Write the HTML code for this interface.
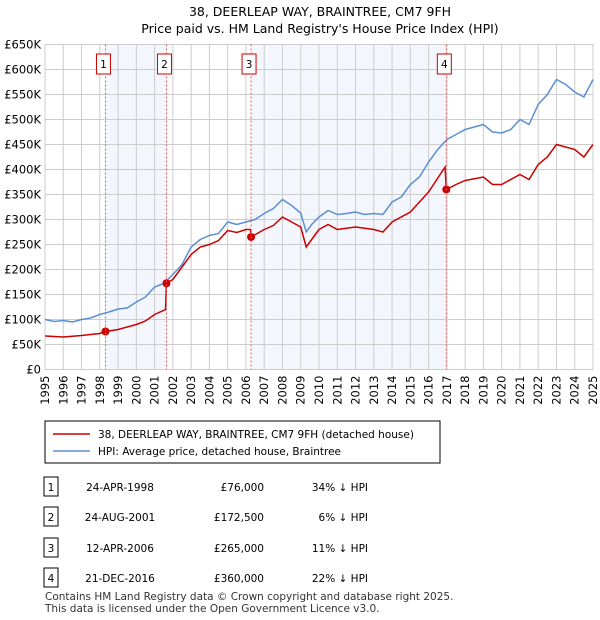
<!DOCTYPE html>
<html><head><meta charset="utf-8"><style>
body{margin:0;background:#fff;font-family:"Liberation Sans","DejaVu Sans",sans-serif;}
svg{display:block}
text{font-family:"DejaVu Sans","Liberation Sans",sans-serif;}
</style></head><body>
<svg id="c" width="600" height="620" viewBox="0 0 600 620" xmlns="http://www.w3.org/2000/svg">
<text x="320" y="16" text-anchor="middle" font-size="12.5">38, DEERLEAP WAY, BRAINTREE, CM7 9FH</text>
<text x="320" y="33" text-anchor="middle" font-size="12.5">Price paid vs. HM Land Registry's House Price Index (HPI)</text>
<g id="bands"></g><g id="grid"></g><g id="axes"></g><g id="lines"></g><g id="marks"></g>
<g>
<rect x="45" y="421" width="395" height="42" fill="#fff" stroke="#000" stroke-width="1"/>
<line x1="53" y1="434" x2="90" y2="434" stroke="#cc0000" stroke-width="1.5"/>
<text x="98" y="438" font-size="10.5">38, DEERLEAP WAY, BRAINTREE, CM7 9FH (detached house)</text>
<line x1="53" y1="451" x2="90" y2="451" stroke="#5b8fd4" stroke-width="1.5"/>
<text x="98" y="455" font-size="10.5">HPI: Average price, detached house, Braintree</text>
</g>
<g id="table" font-size="10.5"></g>
<text x="45" y="600" font-size="10.5" fill="#333">Contains HM Land Registry data © Crown copyright and database right 2025.</text>
<text x="45" y="612" font-size="10.5" fill="#333">This data is licensed under the Open Government Licence v3.0.</text>
</svg>
<script>
const yTicks=[0,50,100,150,200,250,300,350,400,450,500,550,600,650];
const yLabels=["£0","£50K","£100K","£150K","£200K","£250K","£300K","£350K","£400K","£450K","£500K","£550K","£600K","£650K"];
const years=[1995,1996,1997,1998,1999,2000,2001,2002,2003,2004,2005,2006,2007,2008,2009,2010,2011,2012,2013,2014,2015,2016,2017,2018,2019,2020,2021,2022,2023,2024,2025];
const hpiT=[1995,1995.5,1996,1996.5,1997,1997.5,1998,1998.5,1999,1999.5,2000,2000.5,2001,2001.5,2002,2002.5,2003,2003.5,2004,2004.5,2005,2005.5,2006,2006.5,2007,2007.5,2008,2008.5,2009,2009.3,2009.6,2010,2010.5,2011,2011.5,2012,2012.5,2013,2013.5,2014,2014.5,2015,2015.5,2016,2016.5,2017,2017.5,2018,2018.5,2019,2019.5,2020,2020.5,2021,2021.5,2022,2022.5,2023,2023.5,2024,2024.5,2025];
const hpiV=[100,96,98,95,100,103,110,115,121,123,135,145,165,172,190,210,245,260,268,272,295,290,295,300,312,322,340,328,313,275,290,305,318,310,312,315,310,312,310,335,345,370,385,415,440,460,470,480,485,490,475,473,480,500,490,530,550,580,570,555,545,580];
const ppT=[1995,1996,1997,1998,1998.31,1999,2000,2000.5,2001,2001.6,2001.65,2002,2003,2003.5,2004,2004.5,2005,2005.5,2006,2006.25,2006.28,2007,2007.5,2008,2008.5,2009,2009.3,2010,2010.5,2011,2012,2013,2013.5,2014,2015,2015.5,2016,2016.9,2016.97,2017.5,2018,2019,2019.5,2020,2021,2021.5,2022,2022.5,2023,2024,2024.5,2025];
const ppV=[67,65,68,72,76,80,90,97,110,120,172.5,180,230,245,250,258,278,274,280,280,265,280,288,305,295,285,245,280,290,280,285,280,275,295,315,335,355,405,360,370,378,385,370,370,390,380,410,425,450,440,425,450];
const saleT=[1998.31,2001.65,2006.28,2016.97];
const saleV=[76,172.5,265,360];
const saleDates=["24-APR-1998","24-AUG-2001","12-APR-2006","21-DEC-2016"];
const salePrices=["£76,000","£172,500","£265,000","£360,000"];
const saleHpi=["34% ↓ HPI","6% ↓ HPI","11% ↓ HPI","22% ↓ HPI"];
const X0=45,X1=593,Y0=369.5,Y1=44.5;
const x=t=>X0+(t-1995)/30*(X1-X0);
const y=v=>Y0-v/650*(Y0-Y1);
const NS="http://www.w3.org/2000/svg";
function mk(p,tag,a){const e=document.createElementNS(NS,tag);for(const k in a)e.setAttribute(k,a[k]);p.appendChild(e);return e;}
const bands=document.getElementById('bands'),grid=document.getElementById('grid'),axes=document.getElementById('axes'),lines=document.getElementById('lines'),marks=document.getElementById('marks'),table=document.getElementById('table');
for(let i=0;i<4;i+=2){const b=mk(bands,'rect',{x:x(saleT[i]),y:Y1,width:x(saleT[i+1])-x(saleT[i]),height:Y0-Y1,fill:'#eef3fc',opacity:0.7});

}
yTicks.forEach((v,i)=>{mk(grid,'line',{x1:X0,x2:X1,y1:y(v),y2:y(v),stroke:'#ccc','stroke-width':1});
const t=mk(axes,'text',{x:X0-4,y:y(v)+4,'text-anchor':'end','font-size':11.5});t.textContent=yLabels[i];

});
years.forEach(yr=>{mk(grid,'line',{x1:x(yr),x2:x(yr),y1:Y1,y2:Y0,stroke:'#ccc','stroke-width':1});
const t=mk(axes,'text',{x:0,y:0,'text-anchor':'end','font-size':11.5,transform:`translate(${x(yr)+4},${Y0+6}) rotate(-90)`});t.textContent=yr;

});
mk(grid,'rect',{x:X0,y:Y1,width:X1-X0,height:Y0-Y1,fill:'none',stroke:'#ccc'});
saleT.forEach((t,i)=>{const l=mk(marks,'line',{x1:x(t),x2:x(t),y1:Y1,y2:Y0,stroke:'#e55','stroke-width':1,'stroke-dasharray':'2,2'});


const bx=mk(marks,'rect',{x:x(t)-9,y:54,width:14,height:20,fill:'#fff',stroke:'#cc0000'});


const tx=mk(marks,'text',{x:x(t)-2,y:68,'text-anchor':'middle','font-size':10.5});tx.textContent=i+1;});
const hp=mk(lines,'polyline',{points:hpiT.map((t,i)=>x(t)+','+y(hpiV[i])).join(' '),fill:'none',stroke:'#5b8fd4','stroke-width':1.5});


const pp=mk(lines,'polyline',{points:ppT.map((t,i)=>x(t)+','+y(ppV[i])).join(' '),fill:'none',stroke:'#cc0000','stroke-width':1.5});


saleT.forEach((t,i)=>{const c=mk(lines,'circle',{cx:x(t),cy:y(saleV[i]),r:4,fill:'#cc0000'});

});
const rowY=[487,517,548,578];
rowY.forEach((ry,i)=>{const r=mk(table,'rect',{x:44,y:ry-10,width:14,height:19,fill:'#fff',stroke:'#000'});


const n=mk(table,'text',{x:51,y:ry+4,'text-anchor':'middle'});n.textContent=i+1;
const d=mk(table,'text',{x:120,y:ry+4,'text-anchor':'middle'});d.textContent=saleDates[i];


const p=mk(table,'text',{x:264,y:ry+4,'text-anchor':'end'});p.textContent=salePrices[i];


const h=mk(table,'text',{x:368,y:ry+4,'text-anchor':'end'});h.textContent=saleHpi[i];

});
</script>
</body></html>
